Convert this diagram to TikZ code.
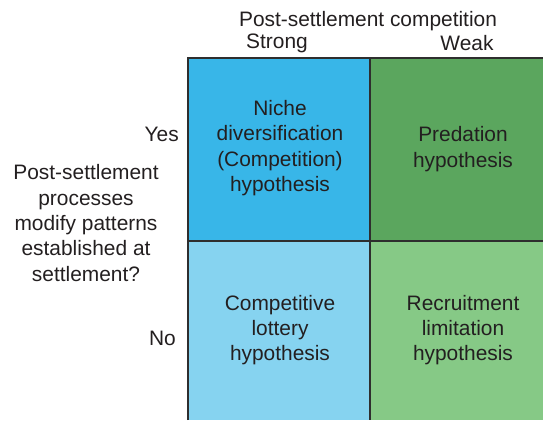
\documentclass[tikz,border=0pt]{standalone}
\usepackage{fontspec}
\setmainfont{Liberation Sans}
\definecolor{txt}{HTML}{231F20}
\definecolor{cTL}{HTML}{38B6E8}
\definecolor{cTR}{HTML}{5BA65E}
\definecolor{cBL}{HTML}{86D3F0}
\definecolor{cBR}{HTML}{86C986}
\definecolor{edge}{HTML}{2E2E2E}
\begin{document}
\begin{tikzpicture}[x=1pt,y=-1pt,
  lbl/.style={text=txt,font=\fontsize{20.9}{25.3}\selectfont,align=center,inner sep=0pt},
  gridline/.style={draw=edge,line width=1.6pt}]
\useasboundingbox (0,0) rectangle (543,420);
\fill[cTL] (188,58) rectangle (370,241);
\fill[cTR] (370,58) rectangle (543,241);
\fill[cBL] (188,241) rectangle (370,420);
\fill[cBR] (370,241) rectangle (543,420);
\coordinate (tl) at (188,58);
\coordinate (tr) at (543,58);
\coordinate (bl) at (188,420);
\coordinate (tm) at (370,58);
\coordinate (bm) at (370,420);
\coordinate (ml) at (188,241);
\coordinate (mr) at (543,241);
\draw[gridline] (bl) -- (tl) -- (tr);
\draw[gridline] (tm) -- (bm);
\draw[gridline] (ml) -- (mr);
\node[lbl] (head) at (368,21) {Post-settlement competition};
\node[lbl] (strong) at (277,43) {Strong};
\node[lbl] (weak) at (467,43) {Weak};
\node[lbl,anchor=east] (yes) at (179,134) {Yes};
\node[lbl,anchor=east] (no) at (176,338) {No};
\node[lbl] (q) at (86,223) {Post-settlement\\processes\\modify patterns\\established at\\settlement?};
\node[lbl] (niche) at (280,148) {Niche\\diversification\\(Competition)\\hypothesis};
\node[lbl] (pred) at (463,149) {Predation\\hypothesis};
\node[lbl] (lot) at (280,330) {Competitive\\lottery\\hypothesis};
\node[lbl] (rec) at (463,330) {Recruitment\\limitation\\hypothesis};
\end{tikzpicture}
\end{document}
